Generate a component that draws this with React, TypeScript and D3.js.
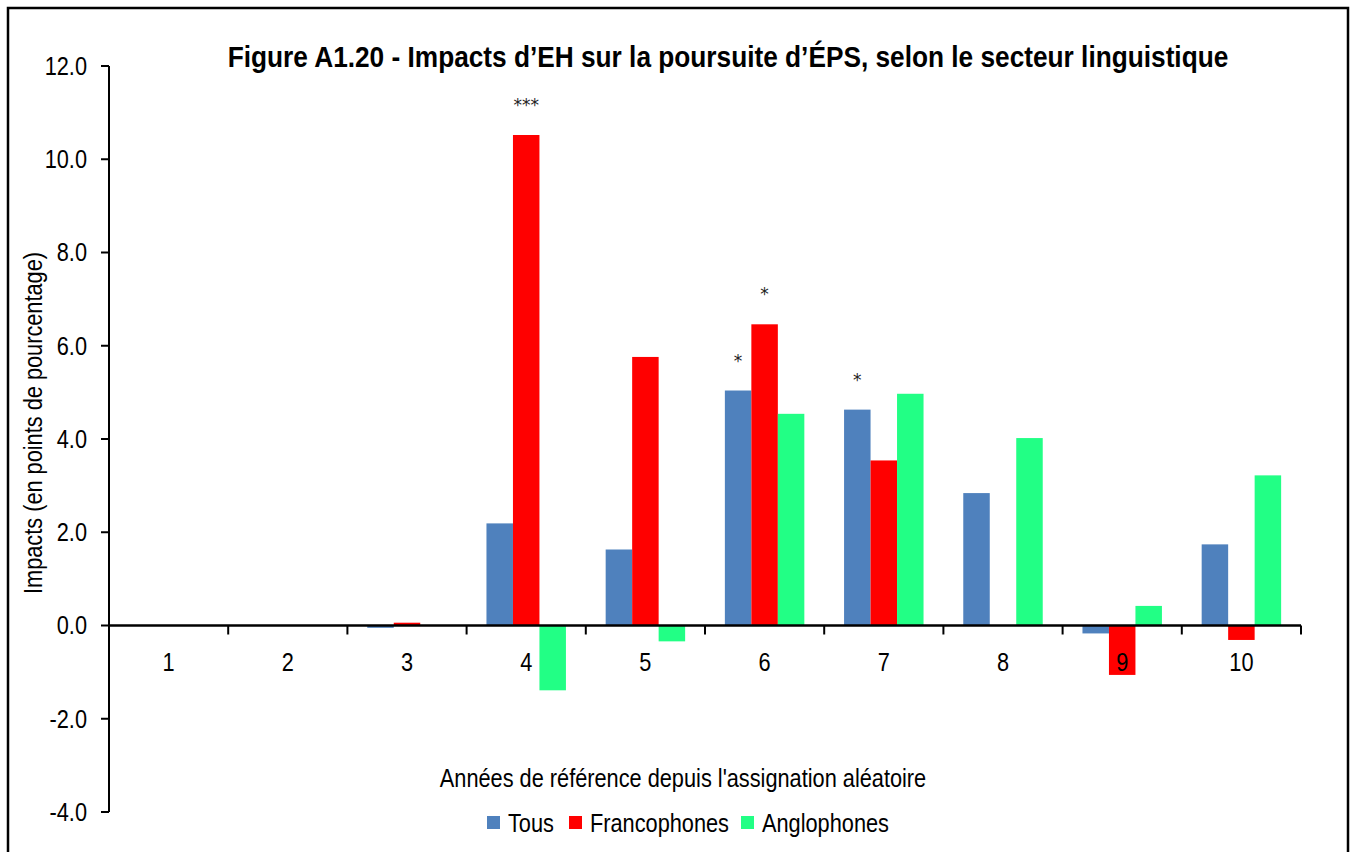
import * as d3 from 'd3';

const years = ['1', '2', '3', '4', '5', '6', '7', '8', '9', '10'];
const seriesNames = ['Tous', 'Francophones', 'Anglophones'];
const seriesColors = ['#4F81BD', '#FF0000', '#22FF85'];
const tous = [0, 0, -0.05, 2.19, 1.63, 5.04, 4.63, 2.84, -0.17, 1.74];
const francophones = [0, 0, 0.06, 10.52, 5.76, 6.46, 3.54, 0, -1.06, -0.31];
const anglophones = [0, 0, 0, -1.39, -0.34, 4.54, 4.97, 4.02, 0.42, 3.22];
const stars = [
  { year: '4', series: 'Francophones', label: '***' },
  { year: '6', series: 'Tous', label: '*' },
  { year: '6', series: 'Francophones', label: '*' },
  { year: '7', series: 'Tous', label: '*' },
];
const yTicks = [-4, -2, 0, 2, 4, 6, 8, 10, 12];

const W = 1354;
const H = 852;
const M = { left: 109, right: 1301, top: 66, bottom: 812 };
const FONT = "'Liberation Sans', Arial, sans-serif";
const SX = 0.87; // mimic a narrow face

// narrow text: regular face squeezed horizontally
function NText({ x, y, anchor = 'start', size = 25, bold = false, rotate = 0, sx = SX, children }: any) {
  return (
    <g transform={`translate(${x},${y}) rotate(${rotate}) scale(${sx},1)`}>
      <text textAnchor={anchor} dy="0.35em" fontSize={size} fontWeight={bold ? 'bold' : 'normal'} fill="#000">{children}</text>
    </g>
  );
}

export default function App() {
  const values = [tous, francophones, anglophones];
  const x = d3.scaleBand().domain(years).range([M.left, M.right]).padding(0);
  const inner = d3.scaleBand().domain(seriesNames).range([0, x.bandwidth()]).paddingInner(0).paddingOuter(0.75);
  const y = d3.scaleLinear().domain([-4, 12]).range([M.bottom, M.top]);
  const fmt = d3.formatLocale({ decimal: '.', thousands: ',', grouping: [3], currency: ['', ''], minus: '-' }).format('.1f');
  const boundaries = d3.range(years.length + 1).map(i => M.left + i * x.step());
  const legendX = [487, 569, 741];

  return (
    <svg width={W} height={H} style={{ position: 'absolute', left: 0, top: 0, background: '#fff' }} fontFamily={FONT}>
      <rect x={8} y={8} width={1340} height={870} fill="#fff" stroke="#000" strokeWidth={2.5} />
      <NText x={728} y={56} anchor="middle" size={30} bold sx={0.875}>
        Figure A1.20 - Impacts d’EH sur la poursuite d’ÉPS, selon le secteur linguistique
      </NText>

      {/* bars */}
      {values.map((vals, si) => (
        <g key={seriesNames[si]}>
          {vals.map((v, i) => (
            <rect key={i}
              x={(x(years[i]) ?? 0) + (inner(seriesNames[si]) ?? 0)}
              y={y(Math.max(v, 0))}
              width={inner.bandwidth()}
              height={Math.abs(y(v) - y(0))}
              fill={seriesColors[si]} />
          ))}
        </g>
      ))}

      {/* significance marks */}
      {stars.map((s, i) => {
        const si = seriesNames.indexOf(s.series);
        const yi = years.indexOf(s.year);
        const v = values[si][yi];
        return (
          <text key={i} x={(x(s.year) ?? 0) + (inner(s.series) ?? 0) + inner.bandwidth() / 2}
            y={y(v) - 24} textAnchor="middle" fontSize={17} fill="#222" fontFamily="'DejaVu Sans', sans-serif">{s.label}</text>
        );
      })}

      {/* y axis */}
      <line x1={M.left} x2={M.left} y1={y(12)} y2={y(-4)} stroke="#000" strokeWidth={2} />
      {yTicks.map(t => (
        <g key={t}>
          <line x1={M.left - 8} x2={M.left} y1={y(t)} y2={y(t)} stroke="#000" strokeWidth={2} />
          <NText x={87} y={y(t)} anchor="end">{fmt(t)}</NText>
        </g>
      ))}

      {/* x axis at zero */}
      <line x1={M.left} x2={M.right} y1={y(0)} y2={y(0)} stroke="#000" strokeWidth={2.5} />
      {boundaries.map((b, i) => (
        <line key={i} x1={b} x2={b} y1={y(0)} y2={y(0) + 9} stroke="#000" strokeWidth={2} />
      ))}
      {years.map(yr => (
        <NText key={yr} x={(x(yr) ?? 0) + x.bandwidth() / 2} y={662} anchor="middle">{yr}</NText>
      ))}

      {/* axis titles */}
      <NText x={33} y={423} anchor="middle" rotate={-90}>Impacts (en points de pourcentage)</NText>
      <NText x={683} y={778} anchor="middle">Années de référence depuis l'assignation aléatoire</NText>

      {/* legend */}
      {legendX.map((lx, i) => (
        <g key={seriesNames[i]}>
          <rect x={lx} y={816} width={13} height={13} fill={seriesColors[i]} />
          <NText x={lx + 21} y={823}>{seriesNames[i]}</NText>
        </g>
      ))}
    </svg>
  );
}
